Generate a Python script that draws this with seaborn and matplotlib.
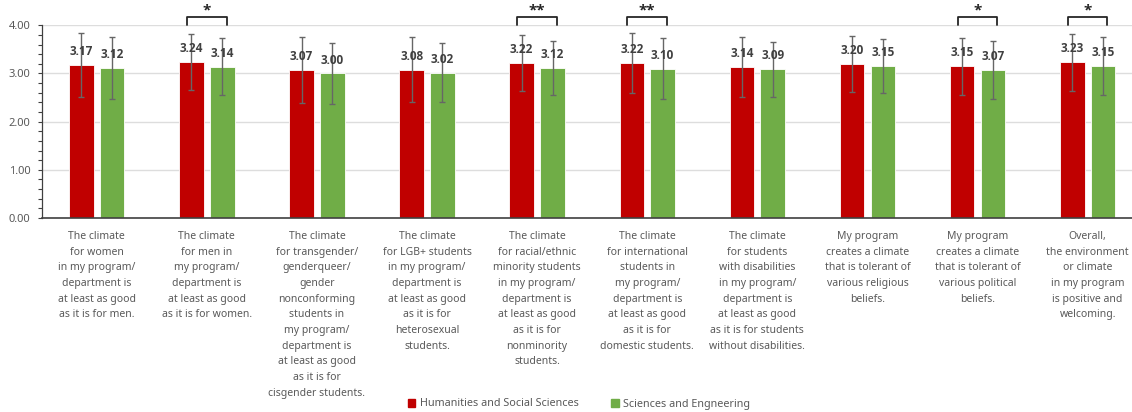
import matplotlib
matplotlib.use("Agg")
import matplotlib.pyplot as plt
from matplotlib.ticker import MultipleLocator
import seaborn as sns
import pandas as pd

# Survey items (x-axis categories)
items = [
    "The climate\nfor women\nin my program/\ndepartment is\nat least as good\nas it is for men.",
    "The climate\nfor men in\nmy program/\ndepartment is\nat least as good\nas it is for women.",
    "The climate\nfor transgender/\ngenderqueer/\ngender\nnonconforming\nstudents in\nmy program/\ndepartment is\nat least as good\nas it is for\ncisgender students.",
    "The climate\nfor LGB+ students\nin my program/\ndepartment is\nat least as good\nas it is for\nheterosexual\nstudents.",
    "The climate\nfor racial/ethnic\nminority students\nin my program/\ndepartment is\nat least as good\nas it is for\nnonminority\nstudents.",
    "The climate\nfor international\nstudents in\nmy program/\ndepartment is\nat least as good\nas it is for\ndomestic students.",
    "The climate\nfor students\nwith disabilities\nin my program/\ndepartment is\nat least as good\nas it is for students\nwithout disabilities.",
    "My program\ncreates a climate\nthat is tolerant of\nvarious religious\nbeliefs.",
    "My program\ncreates a climate\nthat is tolerant of\nvarious political\nbeliefs.",
    "Overall,\nthe environment\nor climate\nin my program\nis positive and\nwelcoming.",
]

groups = ["Humanities and Social Sciences", "Sciences and Engneering"]

hss_mean = [3.17, 3.24, 3.07, 3.08, 3.22, 3.22, 3.14, 3.20, 3.15, 3.23]
se_mean = [3.12, 3.14, 3.00, 3.02, 3.12, 3.10, 3.09, 3.15, 3.07, 3.15]

hss_sd = [0.66, 0.58, 0.69, 0.68, 0.58, 0.62, 0.62, 0.58, 0.59, 0.59]
se_sd = [0.64, 0.59, 0.64, 0.62, 0.56, 0.63, 0.57, 0.56, 0.60, 0.60]

# Significance markers per item ("" = not significant)
significance = ["", "*", "", "", "**", "**", "", "", "*", "*"]

y_ticks = [0, 1, 2, 3, 4]

RED = "#C00000"
GREEN = "#70AD47"
TEXT = "#595959"
BOLD_FONT = ["Open Sans", "Lato", "DejaVu Sans"]

df = pd.DataFrame({
    "item": items * 2,
    "group": [groups[0]] * len(items) + [groups[1]] * len(items),
    "mean": hss_mean + se_mean,
    "sd": hss_sd + se_sd,
})

sns.set_style("white")
plt.rcParams["font.family"] = ["Noto Sans", "DejaVu Sans"]

fig = plt.figure(figsize=(11.32, 4.12), dpi=100)
ax = fig.add_axes([41.7 / 1132, 194 / 412, 1101 / 1132, 192.7 / 412])

sns.barplot(
    data=df, x="item", y="mean", hue="group", order=items, hue_order=groups,
    palette=[RED, GREEN], width=0.56, gap=0.2, errorbar=None,
    edgecolor="white", linewidth=0.6, saturation=1, ax=ax, legend=False,
)

# Error bars (±1 SD) and value labels on each series
for container, g in zip(ax.containers, groups):
    sub = df[df["group"] == g].set_index("item").loc[items]
    xs = [b.get_x() + b.get_width() / 2 for b in container]
    ax.errorbar(xs, sub["mean"].values, yerr=sub["sd"].values, fmt="none",
                ecolor="#666666", elinewidth=1.0, capsize=2, capthick=1.0,
                zorder=4)
    ax.bar_label(container, labels=[f"{v:.2f}" for v in sub["mean"].values],
                 padding=5, fontsize=8.5, fontweight="bold", color="#404040",
                 family=BOLD_FONT, zorder=5)

# Significance brackets above the plot area
for i, s in enumerate(significance):
    if not s:
        continue
    x0, x1 = i - 0.18, i + 0.18
    ax.plot([x0, x0, x1, x1], [4.0, 4.165, 4.165, 4.0], color="#262626",
            lw=1.3, clip_on=False, zorder=6)
    ax.text(i, 4.165, s, ha="center", va="bottom", fontsize=11,
            fontweight="bold", color="#262626", family=BOLD_FONT,
            clip_on=False)

ax.set_ylim(0, 4)
ax.set_xlim(-0.5, len(items) - 0.5)
ax.set_yticks(y_ticks)
ax.set_yticklabels([f"{t:.2f}" for t in y_ticks], fontsize=8, color=TEXT)
ax.yaxis.set_minor_locator(MultipleLocator(0.2))
ax.tick_params(axis="y", which="both", left=True, length=3, width=0.8,
               color="#404040", direction="out")
ax.tick_params(axis="y", which="major", pad=5)
ax.set_xticks(range(len(items)))
ax.set_xticklabels(items, fontsize=7.5, color=TEXT, linespacing=1.58,
                   va="top")
ax.tick_params(axis="x", length=0, pad=9.5)
ax.set_xlabel("")
ax.set_ylabel("")

ax.grid(axis="y", color="#DDDDDD", lw=1.0)
ax.set_axisbelow(True)
for side in ["top", "right"]:
    ax.spines[side].set_visible(False)
ax.spines["left"].set_color("#404040")
ax.spines["left"].set_linewidth(0.9)
ax.spines["bottom"].set_color("#404040")
ax.spines["bottom"].set_linewidth(1.2)

handles = [plt.Rectangle((0, 0), 1, 1, color=c) for c in (RED, GREEN)]
fig.legend(handles, groups, loc="center", bbox_to_anchor=(579 / 1132, 8 / 412),
           ncol=2, frameon=False, fontsize=7.8, labelcolor=TEXT,
           handlelength=0.7, handleheight=0.7, handletextpad=0.4,
           columnspacing=3.0)

fig.savefig("out.png", dpi=100)
